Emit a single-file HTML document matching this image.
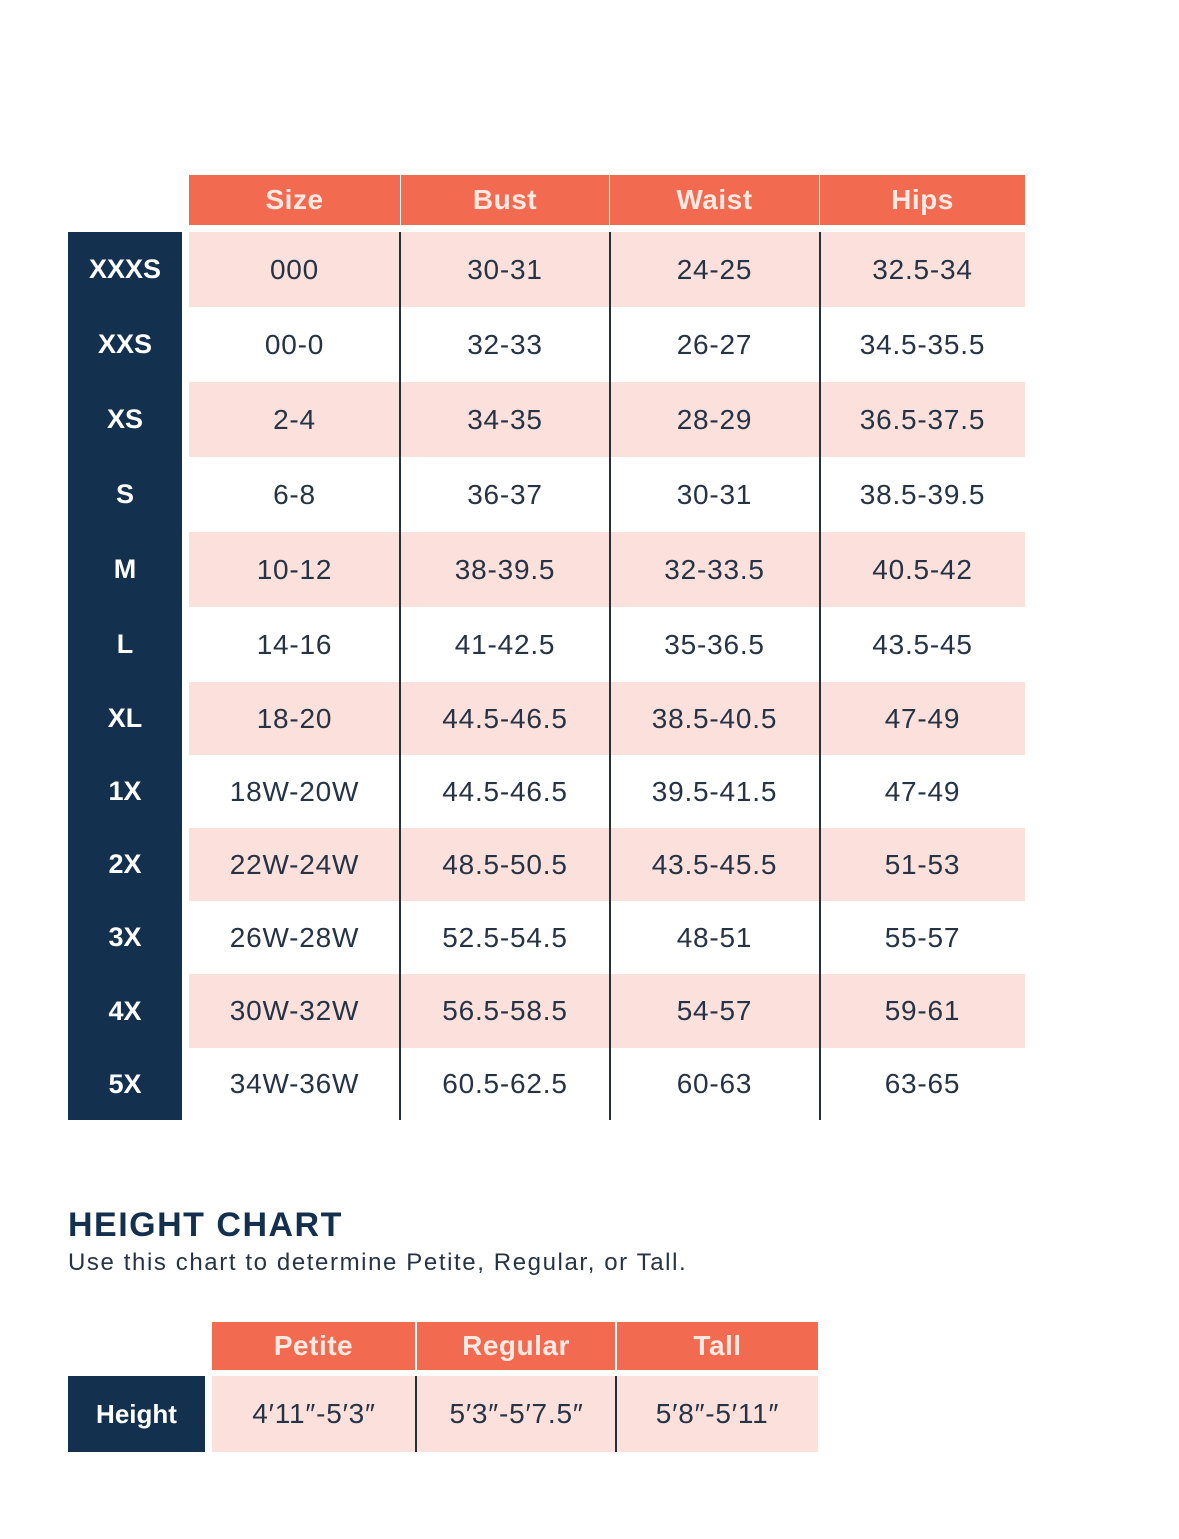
<!DOCTYPE html>
<html><head><meta charset="utf-8"><style>
body{margin:0;width:1179px;height:1539px;background:#fff;position:relative;font-family:"Liberation Sans",sans-serif;overflow:hidden}
.a{position:absolute;display:flex;align-items:center;justify-content:center;box-sizing:border-box}
.h{background:#f26a4f;color:#fde9e2;font-size:28px;font-weight:bold;letter-spacing:0.5px}
.n{background:#13304f;color:#fff;font-size:27px;font-weight:bold}
.c{color:#263345;font-size:28px;letter-spacing:0.8px}
.p{background:#fbe0dc}
.v{position:absolute;width:2px;background:#26303a}
</style></head><body>
<div id="t"></div>
<div class="a" style="left:68px;top:1205px;height:40px;font-size:34px;font-weight:bold;color:#13304f;justify-content:flex-start;letter-spacing:1.5px">HEIGHT CHART</div>
<div class="a" style="left:68px;top:1248px;height:30px;font-size:24px;color:#263345;justify-content:flex-start;letter-spacing:1.6px">Use this chart to determine Petite, Regular, or Tall.</div>
<div class="a h" style="left:212px;top:1322px;width:203px;height:48px">Petite</div>
<div class="a h" style="left:417px;top:1322px;width:198px;height:48px">Regular</div>
<div class="a h" style="left:617px;top:1322px;width:201px;height:48px">Tall</div>
<div class="a n" style="left:68px;top:1376px;width:137px;height:76px;font-size:26px">Height</div>
<div class="a c p" style="left:212px;top:1376px;width:606px;height:76px"></div>
<div class="a c" style="left:212px;top:1376px;width:204px;height:76px">4′11″-5′3″</div>
<div class="a c" style="left:417px;top:1376px;width:199px;height:76px">5′3″-5′7.5″</div>
<div class="a c" style="left:617px;top:1376px;width:201px;height:76px">5′8″-5′11″</div>
<div class="v" style="left:415px;top:1376px;height:76px"></div>
<div class="v" style="left:615px;top:1376px;height:76px"></div>
<script>
var cols=[[189,211],[401,208],[610,209],[820,205]];
var hd=["Size","Bust","Waist","Hips"];
var rows=[["XXXS","000","30-31","24-25","32.5-34"],["XXS","00-0","32-33","26-27","34.5-35.5"],["XS","2-4","34-35","28-29","36.5-37.5"],["S","6-8","36-37","30-31","38.5-39.5"],["M","10-12","38-39.5","32-33.5","40.5-42"],["L","14-16","41-42.5","35-36.5","43.5-45"],["XL","18-20","44.5-46.5","38.5-40.5","47-49"],["1X","18W-20W","44.5-46.5","39.5-41.5","47-49"],["2X","22W-24W","48.5-50.5","43.5-45.5","51-53"],["3X","26W-28W","52.5-54.5","48-51","55-57"],["4X","30W-32W","56.5-58.5","54-57","59-61"],["5X","34W-36W","60.5-62.5","60-63","63-65"]];
var ys=[232,307,382,457,532,607,682,755,828,901,974,1048,1120];
var h='';
hd.forEach((t,i)=>{h+=`<div class="a h" style="left:${cols[i][0]}px;top:175px;width:${cols[i][1]}px;height:50px">${t}</div>`});
h+=`<div class="a n" style="left:68px;top:232px;width:114px;height:888px"></div>`;
rows.forEach((r,j)=>{var y=ys[j],hh=ys[j+1]-y;
if(j%2==0)h+=`<div class="a p" style="left:189px;top:${y}px;width:836px;height:${hh}px"></div>`;
h+=`<div class="a n" style="left:68px;top:${y}px;width:114px;height:${hh}px;background:none">${r[0]}</div>`;
for(var i=0;i<4;i++)h+=`<div class="a c" style="left:${cols[i][0]}px;top:${y}px;width:${cols[i][1]}px;height:${hh}px">${r[i+1]}</div>`;});
[399,609,819].forEach(x=>{h+=`<div class="v" style="left:${x}px;top:232px;height:888px"></div>`});
document.getElementById('t').innerHTML=h;
</script>
</body></html>
